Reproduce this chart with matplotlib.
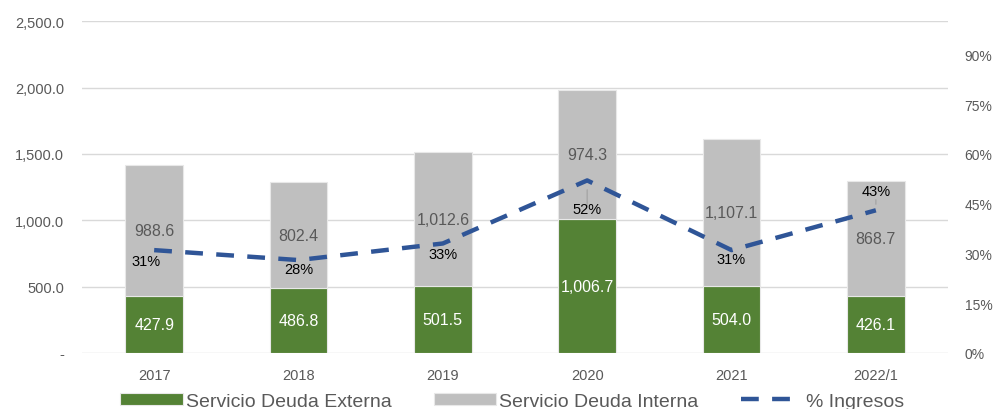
import numpy as np
import matplotlib.pyplot as plt
from matplotlib.ticker import FuncFormatter, PercentFormatter

years = ['2017', '2018', '2019', '2020', '2021', '2022/1']
externa = [427.9, 486.8, 501.5, 1006.7, 504.0, 426.1]
interna = [988.6, 802.4, 1012.6, 974.3, 1107.1, 868.7]
ingresos = [31, 28, 33, 52, 31, 43]

green = '#548235'
grey = '#bfbfbf'
blue = '#2f5597'
txt = '#595959'

plt.rcParams['font.family'] = ['Liberation Sans', 'DejaVu Sans']

fig = plt.figure(figsize=(9.95, 4.1), dpi=100)
ax = fig.add_axes([0.0824, 0.1366, 0.8704, 0.8094])
x = np.arange(len(years))

b1 = ax.bar(x, externa, width=0.4, color=green, edgecolor='#e8e8e8', linewidth=0.8,
            label='Servicio Deuda Externa', zorder=2)
b2 = ax.bar(x, interna, width=0.4, bottom=externa, color=grey, edgecolor='#e8e8e8',
            linewidth=0.8, label='Servicio Deuda Interna', zorder=2)

for i in range(len(years)):
    ax.text(x[i], externa[i] / 2, f'{externa[i]:,.1f}', ha='center', va='center',
            color='white', fontsize=11.5, zorder=4)
    ax.text(x[i], externa[i] + interna[i] / 2, f'{interna[i]:,.1f}', ha='center',
            va='center', color=txt, fontsize=11.5, zorder=4)

ax.set_xlim(-0.5, len(years) - 0.5)
ax.set_ylim(0, 2500)
ax.set_yticks(np.arange(0, 2501, 500))
ax.yaxis.set_major_formatter(FuncFormatter(lambda v, p: '-' if v == 0 else f'{v:,.1f}'))
ax.grid(axis='y', color='#d9d9d9', linewidth=1, zorder=0)
ax.set_axisbelow(True)
for s in ax.spines.values():
    s.set_visible(False)
ax.tick_params(axis='both', length=0, colors=txt, labelsize=10.5)
ax.tick_params(axis='y', pad=13)
ax.tick_params(axis='x', pad=11)
ax.set_xticks(x)
ax.set_xticklabels(years)

ax2 = ax.twinx()
ax2.set_ylim(0, 100)
ax2.set_yticks(np.arange(0, 91, 15))
ax2.yaxis.set_major_formatter(PercentFormatter(decimals=0))
for s in ax2.spines.values():
    s.set_visible(False)
ax2.tick_params(axis='y', length=0, colors=txt, labelsize=10, pad=12)
ln, = ax2.plot(x, ingresos, color=blue, linewidth=3.2, dashes=(4, 3),
               label='% Ingresos', zorder=3)

# percent labels (offsets in pixels)
offs = [(-8, -11), (0, -9), (0, -11), (0, -29), (0, -9), (0, 19)]
for i, (dx, dy) in enumerate(offs):
    ax2.annotate(f'{ingresos[i]}%', (x[i], ingresos[i]), xytext=(dx, dy),
                 textcoords='offset pixels', ha='center', va='center', fontsize=10.5,
                 color='black', zorder=5)
ax2.annotate('', (x[3], ingresos[3] - 2), xytext=(x[3], ingresos[3] - 8.5),
             arrowprops=dict(arrowstyle='-', color='#a6a6a6', lw=1))
ax2.annotate('', (x[5], ingresos[5] + 1), xytext=(x[5], ingresos[5] + 4),
             arrowprops=dict(arrowstyle='-', color='#a6a6a6', lw=1))

fig.legend(handles=[b1, b2, ln], loc='lower center', bbox_to_anchor=(0.515, -0.045),
           ncol=3, frameon=False, handlelength=3.2, handleheight=0.6,
           columnspacing=2.2, handletextpad=0.15, labelcolor=txt,
           prop={'size': 14})

fig.savefig('out.png', dpi=100)
